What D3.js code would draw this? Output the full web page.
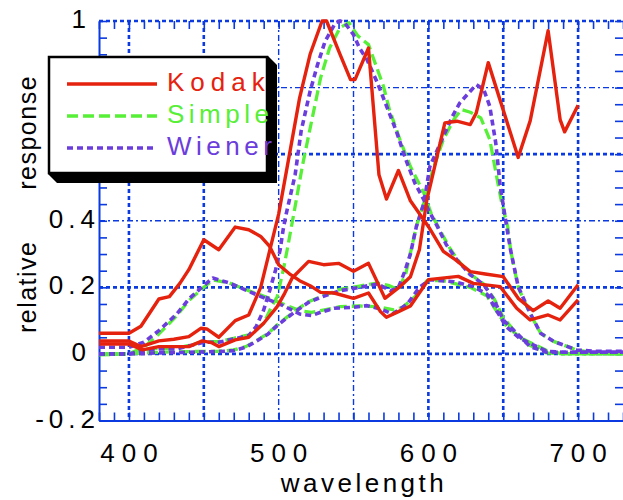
<!DOCTYPE html>
<html>
<head>
<meta charset="utf-8">
<script src="https://cdn.jsdelivr.net/npm/d3@7/dist/d3.min.js"></script>
<style>
  body { margin: 0; background: #fff; }
  svg text { font-family: "Liberation Sans", Arial, sans-serif; }
</style>
</head>
<body>
<svg id="chart" width="623" height="500"></svg>
<script>
// [wavelength nm, relative response]
const kodakBlue = [[380,0.062],[400,0.062],[408,0.083],[420,0.165],[427,0.172],[434,0.212],[440,0.253],[450,0.343],[460,0.313],[471,0.381],[480,0.373],[488,0.353],[494,0.323],[500,0.268],[508,0.238],[514,0.22],[521,0.205],[528,0.185],[537,0.183],[550,0.167],[560,0.183],[568,0.127],[572,0.11],[580,0.127],[588,0.144],[600,0.223],[620,0.233],[630,0.212],[648,0.202],[659,0.137],[668,0.102],[680,0.117],[688,0.102],[700,0.162]]
const kodakGreen = [[380,0.039],[400,0.039],[408,0.022],[420,0.039],[430,0.044],[440,0.052],[448,0.077],[452,0.075],[460,0.05],[471,0.1],[480,0.117],[488,0.2],[494,0.31],[500,0.42],[508,0.619],[514,0.769],[521,0.9],[529,1.0],[532,1.0],[541,0.9],[548,0.824],[551,0.824],[560,0.919],[567,0.538],[572,0.465],[580,0.551],[588,0.46],[600,0.383],[610,0.308],[618,0.283],[628,0.247],[638,0.24],[650,0.232],[660,0.167],[670,0.13],[680,0.159],[688,0.137],[700,0.208]]
const kodakRed = [[380,0.03],[400,0.03],[409,0.012],[420,0.022],[430,0.022],[440,0.022],[449,0.039],[455,0.034],[460,0.022],[471,0.042],[480,0.05],[490,0.092],[499,0.142],[504,0.182],[509,0.228],[520,0.278],[530,0.268],[540,0.272],[550,0.248],[560,0.272],[571,0.167],[581,0.202],[588,0.232],[594,0.313],[599,0.463],[602,0.52],[611,0.694],[619,0.699],[628,0.689],[632,0.724],[640,0.875],[660,0.59],[668,0.7],[680,0.971],[688,0.704],[691,0.667],[700,0.747]]

const simpleBlue = [[380,-0.003],[400,0],[410,0.02],[420,0.06],[432,0.115],[440,0.16],[450,0.2],[456,0.222],[467,0.213],[480,0.19],[492,0.17],[503,0.15],[514,0.13],[522,0.125],[528,0.13],[541,0.142],[554,0.144],[566,0.142],[577,0.132],[583,0.14],[591,0.172],[599,0.22],[610,0.22],[617,0.212],[628,0.2],[639,0.175],[646,0.125],[652,0.085],[661,0.05],[670,0.03],[679,0.01],[690,0],[730,0]]
const simpleGreen = [[380,0],[400,0],[410,0.012],[420,0.017],[432,0.017],[450,0.037],[460,0.037],[470,0.047],[480,0.057],[490,0.092],[494,0.13],[499,0.172],[503,0.25],[506,0.32],[510,0.418],[516,0.568],[522,0.699],[528,0.829],[534,0.919],[541,0.98],[547,0.995],[550,0.974],[553,0.955],[560,0.929],[562,0.904],[570,0.804],[574,0.734],[581,0.644],[588,0.563],[597,0.483],[602,0.42],[608,0.37],[614,0.32],[620,0.28],[628,0.24],[637,0.21],[644,0.165],[650,0.11],[659,0.06],[668,0.025],[679,0.003],[690,0],[730,0]]
const simpleRed = [[380,0],[400,0],[420,0.005],[440,0.007],[460,0.008],[470,0.012],[478,0.022],[484,0.037],[493,0.062],[499,0.087],[506,0.112],[512,0.132],[520,0.157],[528,0.172],[541,0.194],[554,0.204],[566,0.213],[574,0.205],[580,0.193],[585,0.243],[588,0.303],[592,0.383],[597,0.453],[603,0.553],[610,0.644],[617,0.704],[622,0.734],[628,0.726],[635,0.709],[641,0.644],[646,0.523],[649,0.453],[653,0.383],[655,0.31],[660,0.2],[668,0.12],[675,0.062],[684,0.037],[690,0.027],[699,0.012],[710,0.003],[730,0]]

const wienerBlue = [[380,0.02],[400,0.02],[410,0.035],[420,0.07],[432,0.12],[440,0.165],[450,0.205],[456,0.228],[467,0.213],[480,0.188],[492,0.165],[503,0.145],[514,0.12],[522,0.115],[528,0.125],[537,0.137],[550,0.14],[559,0.145],[568,0.135],[576,0.12],[586,0.15],[594,0.2],[601,0.223],[617,0.217],[630,0.202],[639,0.18],[646,0.127],[652,0.082],[661,0.047],[670,0.027],[679,0.008],[690,0.005],[730,0.005]]
const wienerGreen = [[380,0],[400,0],[410,0.01],[420,0.015],[432,0.015],[450,0.035],[460,0.035],[470,0.045],[480,0.055],[485,0.082],[490,0.132],[494,0.19],[498,0.253],[501,0.313],[503,0.373],[505,0.42],[511,0.538],[515,0.669],[521,0.789],[526,0.869],[531,0.939],[538,0.995],[541,1.0],[544,0.995],[550,0.959],[554,0.919],[559,0.884],[566,0.814],[573,0.734],[579,0.664],[585,0.583],[591,0.513],[597,0.463],[600,0.433],[606,0.383],[612,0.328],[619,0.283],[628,0.238],[637,0.208],[644,0.162],[650,0.102],[659,0.062],[668,0.022],[679,0.005],[690,0.005],[730,0.005]]
const wienerRed = [[380,0],[400,0],[420,0.003],[440,0.005],[460,0.007],[470,0.01],[478,0.02],[484,0.035],[493,0.06],[499,0.085],[506,0.11],[512,0.13],[520,0.155],[528,0.17],[541,0.19],[554,0.2],[566,0.21],[575,0.19],[580,0.2],[584,0.245],[588,0.3],[592,0.383],[597,0.453],[601,0.563],[608,0.633],[616,0.713],[621,0.754],[628,0.789],[632,0.809],[637,0.794],[641,0.744],[645,0.634],[648,0.503],[653,0.363],[655,0.31],[660,0.202],[668,0.122],[675,0.062],[684,0.037],[690,0.027],[699,0.012],[710,0.008],[730,0.008]]

const xTicks = [400, 500, 600, 700]
const yTicks = [-0.2, 0, 0.2, 0.4, 0.6, 0.8, 1]
const yTickLabels = ["-0.2", "0", "0.2", "0.4", "0.6", "0.8", "1"]
const legendNames = ["Kodak", "Simple", "Wiener"]

const red = "#e5220e", green = "#58ef38", purple = "#6a3ddc", blue = "#0b3ae0"

const svg = d3.select("#chart")
const x = d3.scaleLinear().domain([380, 730]).range([99, 623])
const y = d3.scaleLinear().domain([-0.2, 1]).range([420.5, 21])

// grid
const heavyX = [400, 450, 600, 650, 700], thinX = [500, 550]
const heavyY = [0, 0.2, 0.6], thinY = [0.4, 0.8]
heavyX.forEach(v => svg.append("line").attr("x1", x(v)).attr("x2", x(v)).attr("y1", y(1)).attr("y2", y(-0.2))
  .attr("stroke", blue).attr("stroke-width", 2.6).attr("stroke-dasharray", "4,3"))
thinX.forEach(v => svg.append("line").attr("x1", x(v)).attr("x2", x(v)).attr("y1", y(1)).attr("y2", y(-0.2))
  .attr("stroke", blue).attr("stroke-width", 1.4).attr("stroke-dasharray", "6,3,2,3"))
heavyY.forEach(v => svg.append("line").attr("x1", x(380)).attr("x2", x(730)).attr("y1", y(v)).attr("y2", y(v))
  .attr("stroke", blue).attr("stroke-width", 2.6).attr("stroke-dasharray", "4,3"))
thinY.forEach(v => svg.append("line").attr("x1", x(380)).attr("x2", x(730)).attr("y1", y(v)).attr("y2", y(v))
  .attr("stroke", blue).attr("stroke-width", 1.4).attr("stroke-dasharray", "6,3,2,3"))

// frame and ticks
svg.append("line").attr("x1", x(380)).attr("x2", x(730)).attr("y1", y(1)).attr("y2", y(1))
  .attr("stroke", blue).attr("stroke-width", 2.4).attr("stroke-dasharray", "4,3")

const minorX = d3.range(380, 731, 10), minorY = d3.range(-4, 21).map(i => i * 0.05)
const styleAxis = g => { g.select(".domain").attr("stroke", blue).attr("stroke-width", 2); g.selectAll(".tick line").attr("stroke", blue).attr("stroke-width", 1.6) }

svg.append("g").attr("transform", `translate(0,${y(-0.2)})`)
  .call(d3.axisBottom(x).tickValues(minorX).tickSize(-8).tickSizeOuter(0).tickFormat(""))
  .call(styleAxis)
svg.append("g").attr("transform", `translate(${x(380)},0)`)
  .call(d3.axisLeft(y).tickValues(minorY).tickSize(-8).tickSizeOuter(0).tickFormat(""))
  .call(styleAxis)
svg.append("g").attr("transform", `translate(0,${y(1)})`)
  .call(d3.axisTop(x).tickValues(minorX).tickSize(-8).tickSizeOuter(0).tickFormat(""))
  .call(styleAxis).call(g => g.select(".domain").remove())
svg.append("g").attr("transform", `translate(${x(730)},0)`)
  .call(d3.axisRight(y).tickValues(minorY).tickSize(-8).tickSizeOuter(0).tickFormat(""))
  .call(styleAxis).call(g => g.select(".domain").remove())

// tick labels
svg.selectAll(".xlab").data(xTicks).join("text")
  .attr("x", d => x(d) + 3.5).attr("y", 462)
  .attr("text-anchor", "middle").attr("font-size", 26).attr("letter-spacing", 7)
  .text(d => d)
svg.selectAll(".ylab").data(yTicks).join("text")
  .attr("x", (d, i) => yTickLabels[i].length === 1 ? 91 : 100).attr("y", d => y(d) + 7)
  .attr("text-anchor", "end").attr("font-size", 26).attr("letter-spacing", 5)
  .text((d, i) => yTickLabels[i])

svg.append("text").attr("x", 364).attr("y", 492).attr("text-anchor", "middle")
  .attr("font-size", 26).attr("letter-spacing", 3.5).text("wavelength")
svg.append("text").attr("transform", "translate(36,204) rotate(-90)").attr("text-anchor", "middle")
  .attr("font-size", 25).attr("letter-spacing", 1.5).style("white-space", "pre").text("relative      response")

// curves
const line = d3.line().x(d => x(d[0])).y(d => y(d[1]))
const series = [
  { data: [simpleBlue, simpleGreen, simpleRed], color: green, width: 3.3, dash: "11,5" },
  { data: [wienerBlue, wienerGreen, wienerRed], color: purple, width: 3.6, dash: "6,4" },
  { data: [kodakBlue, kodakGreen, kodakRed], color: red, width: 3.4, dash: null }
]
series.forEach(s => s.data.forEach(d => {
  svg.append("path").attr("d", line(d)).attr("fill", "none")
    .attr("stroke", s.color).attr("stroke-width", s.width)
    .attr("stroke-dasharray", s.dash).attr("stroke-linejoin", "round")
}))

// legend
const leg = svg.append("g")
leg.append("polygon").attr("points", "268,56 277,65 277,183 57,183 48,174").attr("fill", "#000")
leg.append("rect").attr("x", 49).attr("y", 57).attr("width", 218).attr("height", 116)
  .attr("fill", "#fff").attr("stroke", "#000").attr("stroke-width", 2.5)
const legStyle = [series[2], series[0], series[1]]
legendNames.forEach((n, i) => {
  const s = legStyle[i]
  leg.append("line").attr("x1", 67).attr("x2", 157).attr("y1", 84 + i * 32).attr("y2", 84 + i * 32)
    .attr("stroke", s.color).attr("stroke-width", s.width).attr("stroke-dasharray", s.dash)
  leg.append("text").attr("x", 167).attr("y", 91 + i * 32).attr("font-size", 26)
    .attr("letter-spacing", i === 0 ? 6 : 4.5).attr("fill", s.color).text(n)
})
</script>
</body>
</html>
